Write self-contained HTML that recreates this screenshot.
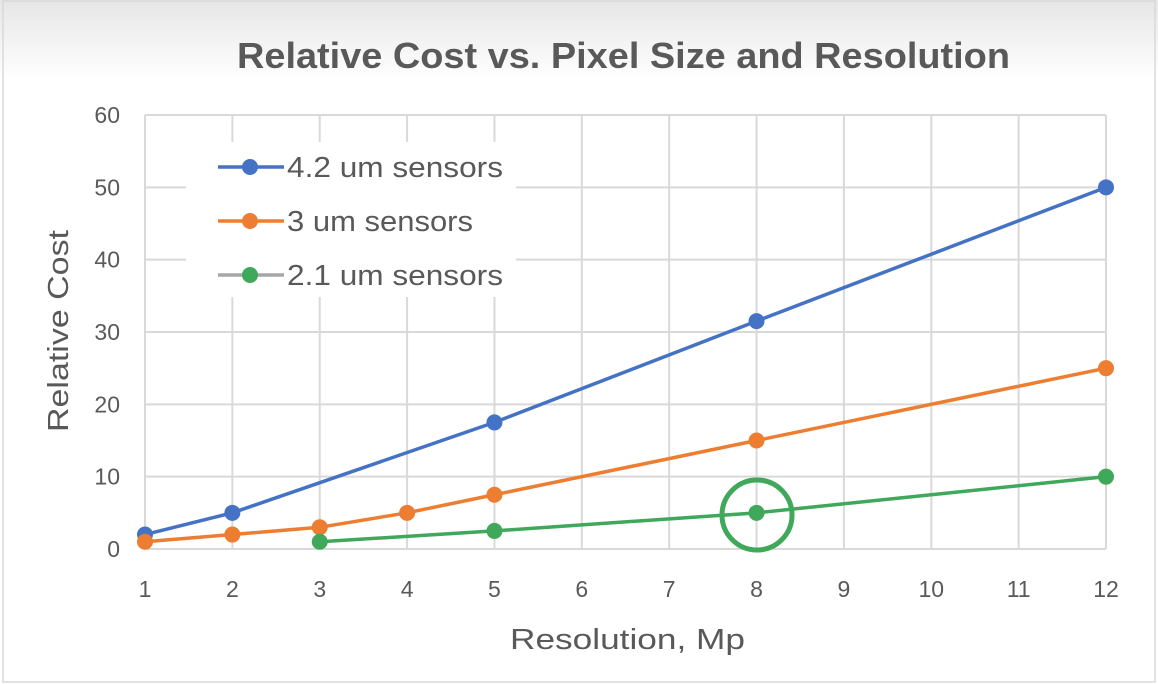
<!DOCTYPE html>
<html><head><meta charset="utf-8"><style>
html,body{margin:0;padding:0;width:1158px;height:684px;overflow:hidden;background:#fff}
svg{display:block;font-family:"Liberation Sans",sans-serif}
</style></head><body>
<svg id="chart" width="1158" height="684">
<defs><linearGradient id="sh" x1="0" y1="0" x2="0" y2="1"><stop offset="0" stop-color="#e6e6e6"/><stop offset="1" stop-color="#fff"/></linearGradient></defs>
<rect x="0" y="0" width="1158" height="684" fill="#fff"/>
<rect x="0" y="0" width="1158" height="80" fill="url(#sh)"/>
<rect x="3" y="1" width="1152" height="681" fill="none" stroke="#d9d9d9" stroke-width="1.5"/>
<text x="237" y="68" textLength="773" lengthAdjust="spacingAndGlyphs" font-size="36" font-weight="bold" fill="#595959">Relative Cost vs. Pixel Size and Resolution</text>
<g id="grid"></g>
<g id="axes"></g>
<g id="series"></g>
<circle cx="757" cy="515" r="35" fill="none" stroke="#3fa85a" stroke-width="5"/>
<g id="legend"></g>
<text transform="translate(68,432) rotate(-90)" textLength="202" lengthAdjust="spacingAndGlyphs" font-size="29" fill="#595959">Relative Cost</text>
<text x="510" y="649" textLength="235" lengthAdjust="spacingAndGlyphs" font-size="29" fill="#595959">Resolution, Mp</text>
</svg>
<script>
const xTicks=[1,2,3,4,5,6,7,8,9,10,11,12];
const yTicks=[0,10,20,30,40,50,60];
const seriesNames=["4.2 um sensors","3 um sensors","2.1 um sensors"];
const blueX=[1,2,5,8,12];
const blueY=[2,5,17.5,31.5,50];
const orangeX=[1,2,3,4,5,8,12];
const orangeY=[1,2,3,5,7.5,15,25];
const greenX=[3,5,8,12];
const greenY=[1,2.5,5,10];
const colors=["#4472c4","#ed7d31","#3fa85a"];
const NS="http://www.w3.org/2000/svg";
function X(v){return 145+(v-1)*(1106-145)/11;}
function Y(v){return 549-v*(549-115)/60;}
function mk(tag,attrs,parent){const e=document.createElementNS(NS,tag);for(const k in attrs)e.setAttribute(k,attrs[k]);parent.appendChild(e);return e;}
const grid=document.getElementById('grid'),axes=document.getElementById('axes'),ser=document.getElementById('series'),leg=document.getElementById('legend');
xTicks.forEach(t=>{
 const l=mk('line',{x1:X(t),x2:X(t),y1:Y(60),y2:Y(0),stroke:'#d9d9d9','stroke-width':2},grid);
 
 
 const tx=mk('text',{x:X(t),y:597,'text-anchor':'middle','font-size':23,fill:'#595959'},axes);
 tx.textContent=t;
 
 
});
yTicks.forEach(t=>{
 const l=mk('line',{x1:X(1),x2:X(12),y1:Y(t),y2:Y(t),stroke:'#d9d9d9','stroke-width':2},grid);
 
 
 const tx=mk('text',{x:120,y:Y(t)+8,'text-anchor':'end','font-size':23,fill:'#595959'},axes);
 tx.textContent=t;
 
 
});
const data=[[blueX,blueY],[orangeX,orangeY],[greenX,greenY]];
data.forEach((d,i)=>{
 const pts=d[0].map((x,j)=>X(x)+','+Y(d[1][j])).join(' ');
 const pl=mk('polyline',{points:pts,fill:'none',stroke:colors[i],'stroke-width':3.5},ser);
 
 
 d[0].forEach((x,j)=>{
  const c=mk('circle',{cx:X(x),cy:Y(d[1][j]),r:8,fill:colors[i]},ser);
  
  
 });
});
const bg=mk('rect',{x:186,y:142,width:330,height:155,fill:'#fff'},leg);


const legW=[216,186,216];
seriesNames.forEach((n,i)=>{
 const y=167+i*54;
 const lc=i==2?'#a6a6a6':colors[i];
 const l=mk('line',{x1:218,x2:284,y1:y,y2:y,stroke:lc,'stroke-width':3.5},leg);
 
 
 const c=mk('circle',{cx:250,cy:y,r:8,fill:colors[i]},leg);
 
 
 const t=mk('text',{x:287,y:y+10,'font-size':29,fill:'#595959',textLength:legW[i],lengthAdjust:'spacingAndGlyphs'},leg);
 t.textContent=n;
 
 
});
</script>
</body></html>
